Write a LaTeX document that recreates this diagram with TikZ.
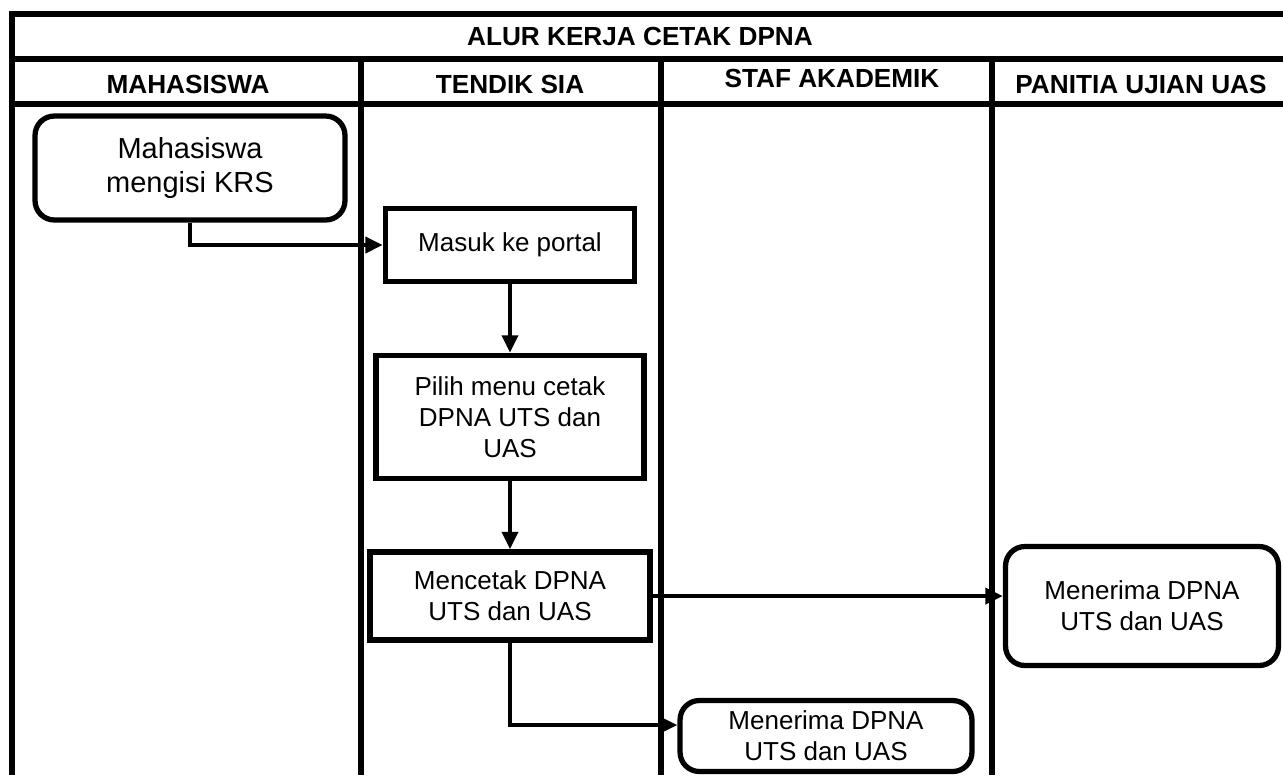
\documentclass[tikz,border=0pt]{standalone}
\usepackage{fontspec}
\setmainfont{Liberation Sans}
\usetikzlibrary{arrows.meta,chains,positioning,scopes}
\tikzset{>={Triangle[length=10pt,width=9pt]},
         every join/.style={->,line width=2.4pt},
         lane/.style={line width=3pt},
         header/.style={font=\fontsize{14.9}{17}\selectfont\bfseries},
         proses/.style={draw,line width=3pt,align=center,inner sep=2pt,
           font=\fontsize{14.8}{17.5}\selectfont},
         mulai/.style={proses,rounded corners=11pt},
         alur/.style={->,line width=2.4pt}}

\begin{document}
\begin{tikzpicture}[x=0.02cm,y=-0.02cm]
  \useasboundingbox (0,0) rectangle (1283,775);
  % swimlanes
  \draw[lane] (1283,14) -- (12,14) -- (12,775);
  \draw[lane] (12,59) -- (1283,59);
  \draw[lane] (12,104) -- (1283,104);
  \foreach \x in {361,661,992}
    \draw[lane] (\x,59) -- (\x,775);
  \node[header] (judul) at (640,36) {ALUR KERJA CETAK DPNA};
  \node[header] (mhs)   at (188,84) {MAHASISWA};
  \node[header] (tendik) at (510,84) {TENDIK SIA};
  \node[header] (staf)  at (832,78) {STAF AKADEMIK};
  \node[header] (panitia) at (1141,84) {PANITIA UJIAN UAS};
  % langkah
  \node[mulai, minimum width=6.2cm, minimum height=2.08cm,
    font=\fontsize{16.5}{19}\selectfont] (isikrs) at (190,168)
    {Mahasiswa\\mengisi KRS};
  \node[proses, minimum width=4.98cm, minimum height=1.46cm] (portal) at (510,245)
    {Masuk ke portal};
  \node[proses, minimum width=5.36cm, minimum height=2.46cm] (menu) at (510,417)
    {Pilih menu cetak\\DPNA UTS dan\\UAS};
  \node[proses, minimum width=5.6cm, minimum height=1.76cm] (cetak) at (510,596)
    {Mencetak DPNA\\UTS dan UAS};
  \node[mulai, minimum width=5.46cm, minimum height=2.38cm] (terimapanitia) at (1142,606)
    {Menerima DPNA\\UTS dan UAS};
  \node[mulai, minimum width=5.84cm, minimum height=1.42cm] (terimastaf) at (826,736)
    {Menerima DPNA\\UTS dan UAS};
  % alur
  \draw[alur] (isikrs.south) |- (portal.west);
  {
    [start chain]
    \chainin (portal);
    \chainin (menu) [join];
    \chainin (cetak) [join];
  }
  \draw[alur] (cetak.east) -- (cetak.east -| terimapanitia.west);
  \draw[alur] (cetak.south) |- ([yshift=0.22cm]terimastaf.west);
\end{tikzpicture}
\end{document}
